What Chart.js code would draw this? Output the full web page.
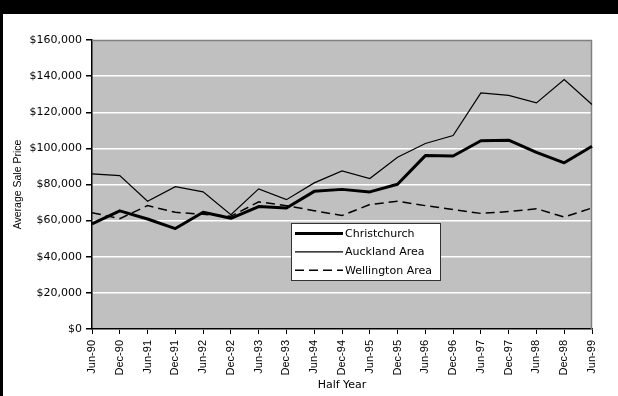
<!DOCTYPE html>
<html>
<head>
<meta charset="utf-8">
<script src="https://cdn.jsdelivr.net/npm/chart.js@4/dist/chart.umd.min.js"></script>
<style>
  html, body { margin: 0; padding: 0; background: #ffffff; }
  #wrap { position: relative; width: 618px; height: 396px; }
</style>
</head>
<body>
<div id="wrap"><canvas id="chart" width="618" height="396"></canvas></div>
<script>
// Half-yearly periods
const periods = [
  'Jun-90', 'Dec-90', 'Jun-91', 'Dec-91', 'Jun-92', 'Dec-92', 'Jun-93', 'Dec-93',
  'Jun-94', 'Dec-94', 'Jun-95', 'Dec-95', 'Jun-96', 'Dec-96', 'Jun-97', 'Dec-97',
  'Jun-98', 'Dec-98', 'Jun-99'
];

// Average sale price by area
const christchurch = [
  58200, 65400, 60900, 55600, 64600, 61300, 67800, 67000, 76200, 77300,
  75900, 80100, 96000, 95800, 104200, 104500, 97800, 92000, 101200
];
const auckland = [
  85900, 84900, 70700, 78800, 75900, 63300, 77600, 71600, 80900, 87500,
  83300, 95100, 102700, 107100, 130700, 129300, 125200, 138100, 124300
];
const wellington = [
  64400, 61100, 68300, 64600, 63500, 62400, 70400, 68300, 65500, 62800,
  68900, 70700, 68300, 66100, 64000, 65000, 66600, 62000, 67000
];

// Value axis
const yMin = 0;
const yMax = 160000;
const yStep = 20000;

const seriesNames = ['Christchurch', 'Auckland Area', 'Wellington Area'];

const FONT_H = "'DejaVu Sans', 'Liberation Sans', Arial, sans-serif";
const FONT_V = "'Liberation Sans', Arial, sans-serif";

// Grey plot area with a light frame on top and right
const plotBackground = {
  id: 'plotBackground',
  beforeDraw(chart) {
    const { ctx, chartArea: a } = chart;
    ctx.save();
    ctx.fillStyle = '#c0c0c0';
    ctx.fillRect(a.left, a.top, a.right - a.left, a.bottom - a.top);
    ctx.restore();
  },
  beforeDatasetsDraw(chart) {
    const { ctx, chartArea: a } = chart;
    ctx.save();
    ctx.strokeStyle = '#808080';
    ctx.lineWidth = 1.5;
    ctx.beginPath();
    ctx.moveTo(a.left, a.top + 0.5);
    ctx.lineTo(a.right - 0.5, a.top + 0.5);
    ctx.lineTo(a.right - 0.5, a.bottom);
    ctx.stroke();
    ctx.restore();
  }
};

// Boxed legend inside the plot area
const boxedLegend = {
  id: 'boxedLegend',
  afterDatasetsDraw(chart) {
    const { ctx } = chart;
    const x = 291.5, y = 223.5, w = 149, h = 57;
    ctx.save();
    ctx.fillStyle = '#ffffff';
    ctx.fillRect(x, y, w, h);
    ctx.strokeStyle = '#333333';
    ctx.lineWidth = 1;
    ctx.strokeRect(x, y, w, h);
    ctx.font = '11px ' + FONT_H;
    ctx.textBaseline = 'middle';
    ctx.textAlign = 'left';
    chart.data.datasets.forEach((ds, i) => {
      const cy = 233.5 + i * 18.4;
      ctx.save();
      ctx.strokeStyle = ds.borderColor;
      ctx.lineWidth = ds.borderWidth;
      ctx.setLineDash(ds.borderDash || []);
      ctx.beginPath();
      ctx.moveTo(295, cy);
      ctx.lineTo(343, cy);
      ctx.stroke();
      ctx.restore();
      ctx.fillStyle = '#000000';
      ctx.fillText(ds.label, 345, cy + 0.5);
    });
    ctx.restore();
  }
};

// Black frame band along the top and left edges
const frameBand = {
  id: 'frameBand',
  afterDraw(chart) {
    const { ctx, width, height } = chart;
    ctx.save();
    ctx.fillStyle = '#000000';
    ctx.fillRect(0, 0, width, 14);
    ctx.fillRect(0, 0, 3, height);
    ctx.restore();
  }
};

const money = v => '$' + Number(v).toLocaleString('en-US');

new Chart(document.getElementById('chart'), {
  type: 'line',
  data: {
    labels: periods,
    datasets: [
      {
        label: seriesNames[0],
        data: christchurch,
        borderColor: '#000000',
        borderWidth: 3,
        borderJoinStyle: 'round',
        pointRadius: 0,
        tension: 0,
        fill: false
      },
      {
        label: seriesNames[1],
        data: auckland,
        borderColor: '#000000',
        borderWidth: 1.2,
        pointRadius: 0,
        tension: 0,
        fill: false
      },
      {
        label: seriesNames[2],
        data: wellington,
        borderColor: '#000000',
        borderWidth: 1.5,
        borderDash: [9, 5],
        pointRadius: 0,
        tension: 0,
        fill: false
      }
    ]
  },
  options: {
    responsive: false,
    animation: false,
    devicePixelRatio: 1,
    layout: { padding: { top: 40, right: 26, left: 0, bottom: 0 } },
    plugins: {
      legend: { display: false },
      tooltip: { enabled: false }
    },
    scales: {
      x: {
        type: 'category',
        offset: false,
        border: { color: '#000000', width: 1.5 },
        grid: {
          drawOnChartArea: false,
          color: '#000000',
          tickColor: '#000000',
          tickLength: 5
        },
        ticks: {
          autoSkip: false,
          minRotation: 90,
          maxRotation: 90,
          padding: 6,
          color: '#000000',
          font: { family: FONT_V, size: 11 }
        },
        title: {
          display: true,
          text: 'Half Year',
          color: '#000000',
          font: { family: FONT_H, size: 11 },
          padding: { top: 0, bottom: 4 }
        },
        afterFit(scale) { scale.height = 67; }
      },
      y: {
        min: yMin,
        max: yMax,
        border: { color: '#000000', width: 1.5 },
        grid: {
          color: '#ffffff',
          lineWidth: 1.5,
          tickColor: '#000000',
          tickLength: 6
        },
        ticks: {
          stepSize: yStep,
          padding: 4,
          color: '#000000',
          font: { family: FONT_H, size: 11 },
          callback: v => money(v)
        },
        title: {
          display: true,
          text: 'Average Sale Price',
          color: '#000000',
          font: { family: FONT_V, size: 10.5 },
          padding: { top: 12, bottom: 0 }
        },
        afterFit(scale) { scale.width = 92; }
      }
    }
  },
  plugins: [plotBackground, boxedLegend, frameBand]
});
</script>
</body>
</html>
